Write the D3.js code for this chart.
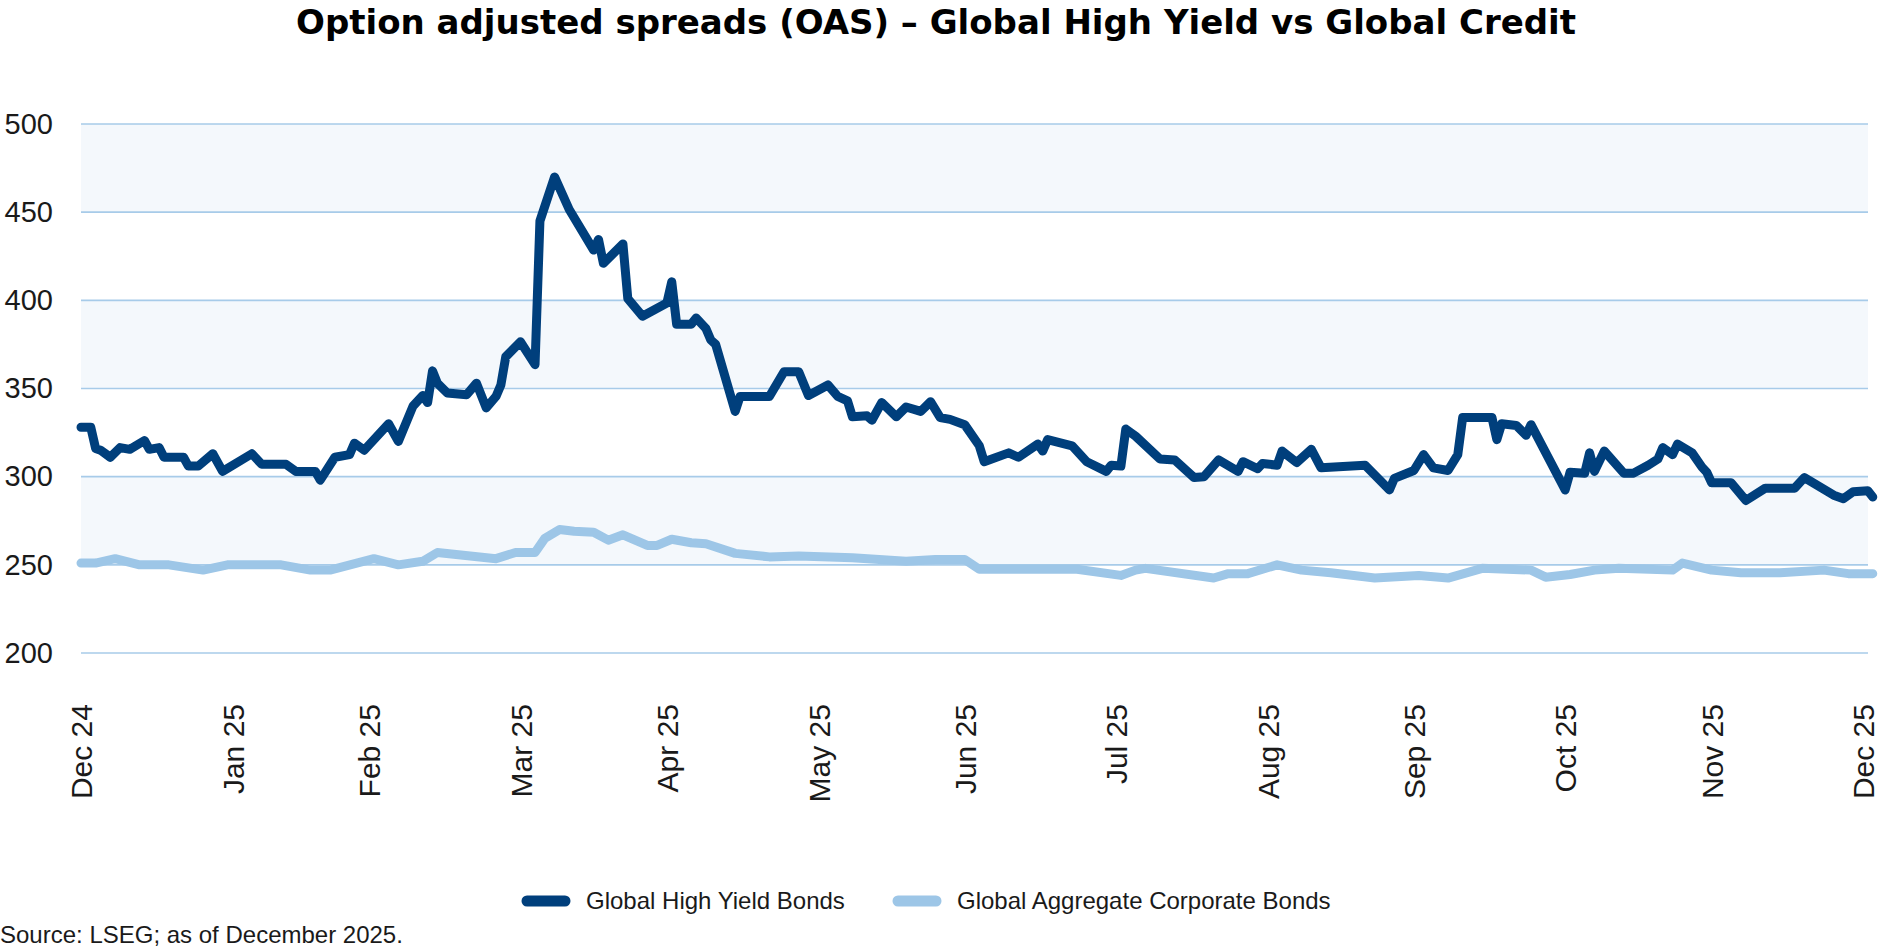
<!DOCTYPE html>
<html lang="en">
<head>
    <meta charset="UTF-8">
    <title>Option adjusted spreads (OAS)</title>
    <script src="https://cdn.jsdelivr.net/npm/d3@7"></script>
    <style>
        body { margin: 0; background: #fff; }
        svg { display: block; }
        text { font-family: "Liberation Sans", Arial, sans-serif; fill: #1a1a1a; }
        .title { font-family: "DejaVu Sans", sans-serif; font-weight: bold; font-size: 34px; fill: #000; }
    </style>
</head>
<body>
<div id="chart"></div>
<script>
    // Global High Yield Bonds, OAS in bp
    const hyDates = ["2024-12-31","2025-01-02","2025-01-03","2025-01-04","2025-01-06","2025-01-08","2025-01-10","2025-01-13","2025-01-14","2025-01-16",
        "2025-01-17","2025-01-21","2025-01-22","2025-01-24","2025-01-27","2025-01-29","2025-02-04","2025-02-06","2025-02-11","2025-02-13",
        "2025-02-17","2025-02-18","2025-02-21","2025-02-24","2025-02-25","2025-02-27","2025-03-04","2025-03-06","2025-03-09","2025-03-11",
        "2025-03-12","2025-03-13","2025-03-14","2025-03-16","2025-03-20","2025-03-22","2025-03-24","2025-03-26","2025-03-27","2025-03-28",
        "2025-03-31","2025-04-03","2025-04-04","2025-04-07","2025-04-10","2025-04-15","2025-04-16","2025-04-17","2025-04-21","2025-04-22",
        "2025-04-25","2025-04-30","2025-05-01","2025-05-02","2025-05-05","2025-05-06","2025-05-08","2025-05-09","2025-05-10","2025-05-14",
        "2025-05-15","2025-05-21","2025-05-24","2025-05-27","2025-05-29","2025-06-02","2025-06-04","2025-06-06","2025-06-07","2025-06-10",
        "2025-06-11","2025-06-13","2025-06-16","2025-06-18","2025-06-21","2025-06-23","2025-06-25","2025-06-27","2025-06-30","2025-07-03",
        "2025-07-04","2025-07-09","2025-07-11","2025-07-15","2025-07-16","2025-07-17","2025-07-22","2025-07-25","2025-07-29","2025-07-30",
        "2025-08-01","2025-08-02","2025-08-04","2025-08-09","2025-08-12","2025-08-16","2025-08-18","2025-08-21","2025-08-25","2025-08-26",
        "2025-08-29","2025-08-30","2025-09-02","2025-09-03","2025-09-06","2025-09-09","2025-09-11","2025-09-20","2025-09-25","2025-09-26",
        "2025-09-30","2025-10-02","2025-10-04","2025-10-07","2025-10-09","2025-10-10","2025-10-16","2025-10-17","2025-10-18","2025-10-21",
        "2025-10-23","2025-10-24","2025-10-31","2025-11-01","2025-11-04","2025-11-05","2025-11-06","2025-11-08","2025-11-12","2025-11-14",
        "2025-11-17","2025-11-19","2025-11-20","2025-11-22","2025-11-23","2025-11-26","2025-11-28","2025-11-29","2025-11-30","2025-12-04",
        "2025-12-07","2025-12-11","2025-12-17","2025-12-19","2025-12-25","2025-12-27","2025-12-29","2026-01-01","2026-01-02"];
    const hyValues = [328,328,316,315,311,316.5,315.5,320.5,315.5,316.5,
        311,311,306,306,313,303,313,307,307,303,
        303,298,311,312.5,319,315,330,320,340,346,
        342,360,353,347.5,346.5,353,339,345.5,352,368,
        376.5,363.5,445,470,451.5,428.5,434.5,421,432,401,
        391,398.5,410.5,386.5,386.5,390,384,377.5,375,337,
        345.5,345.5,359.5,359.5,346,352,345.5,343,334,334.5,
        332,342,334,339.5,337,342.5,333.5,332.5,329.5,317.5,
        308.5,313.5,311,318.5,314.5,321,317.5,308.5,303,306.5,
        306,327,323,310,309.5,299.5,300,309.5,303,308.5,
        304.5,307.5,306.5,314.5,308,315.5,305,306.5,292.5,299,
        303.5,312.5,305,303.5,312.5,333.5,333.5,321,330,329,
        323.5,329.5,292.5,302.5,302,313.5,303,314.5,302,302,
        306.5,310,316.5,312.5,318.5,313.5,305.5,302.5,296.5,296.5,
        286.5,293.5,293.5,299.5,289.5,287.5,291.5,292,288.5];

    // Global Aggregate Corporate Bonds, OAS in bp
    const aggDates = ["2024-12-31","2025-01-03","2025-01-07","2025-01-12","2025-01-18","2025-01-25","2025-01-30","2025-02-10","2025-02-16","2025-02-20",
        "2025-03-01","2025-03-06","2025-03-11","2025-03-14","2025-03-26","2025-03-30","2025-04-03","2025-04-05","2025-04-08","2025-04-11",
        "2025-04-15","2025-04-18","2025-04-21","2025-04-26","2025-04-28","2025-05-01","2025-05-05","2025-05-08","2025-05-14","2025-05-21",
        "2025-05-27","2025-06-07","2025-06-18","2025-06-24","2025-06-30","2025-07-03","2025-07-23","2025-08-01","2025-08-04","2025-08-06",
        "2025-08-20","2025-08-23","2025-08-27","2025-09-02","2025-09-07","2025-09-13","2025-09-22","2025-10-01","2025-10-07","2025-10-14",
        "2025-10-24","2025-10-27","2025-11-01","2025-11-06","2025-11-11","2025-11-22","2025-11-24","2025-11-30","2025-12-06","2025-12-14",
        "2025-12-23","2025-12-28","2026-01-02"];
    const aggValues = [251,251,253.5,250,250,247,250,250,247,247,
        253.5,250,252,257,253.5,257,257,265,270,269,
        268.5,264,267,261,261,264.5,262.5,262,256.5,254.5,
        255,254,252,253,253,247.5,247.5,244,247,248,
        242.5,245,245,250,247,245.5,242.5,244,242.5,248,
        247,243,244.5,247,248,247,251,247,245.5,245.5,
        247,245,245];

    const yTickValues = [200, 250, 300, 350, 400, 450, 500];
    const seriesNames = ["Global High Yield Bonds", "Global Aggregate Corporate Bonds"];
    const titleText = "Option adjusted spreads (OAS) \u2013 Global High Yield vs Global Credit";
    const sourceText = "Source: LSEG; as of December 2025.";

    const W = 1880, H = 948;
    const margin = {top: 124, right: 12, bottom: 295, left: 81};
    const colors = ["#003f7c", "#9dc6e7"];

    const parse = d3.timeParse("%Y-%m-%d");
    const hy = hyDates.map((d, i) => ({date: parse(d), value: hyValues[i]}));
    const agg = aggDates.map((d, i) => ({date: parse(d), value: aggValues[i]}));

    const svg = d3.select("#chart").append("svg")
        .attr("width", W)
        .attr("height", H);

    const plotRight = W - margin.right;

    // month-end labels; the last one sits a little inside the plot edge
    const x = d3.scaleTime()
        .domain([parse("2024-12-31"), parse("2025-12-31")])
        .range([margin.left, plotRight - 5]);

    const y = d3.scaleLinear()
        .domain([200, 500])
        .range([H - margin.bottom, margin.top]);

    // alternating bands (every other interval shaded)
    const bands = d3.pairs(yTickValues).filter((p, i) => i % 2 === 1);
    svg.append("g").selectAll("rect")
        .data(bands)
        .join("rect")
        .attr("x", margin.left)
        .attr("width", plotRight - margin.left)
        .attr("y", d => y(d[1]))
        .attr("height", d => y(d[0]) - y(d[1]))
        .attr("fill", "#f4f8fc");

    // gridlines
    svg.append("g").selectAll("line")
        .data(yTickValues)
        .join("line")
        .attr("x1", margin.left)
        .attr("x2", plotRight)
        .attr("y1", d => y(d))
        .attr("y2", d => y(d))
        .attr("stroke", "#a7cbe9")
        .attr("stroke-width", 1.6);

    // y axis labels
    const yAxis = svg.append("g")
        .attr("transform", `translate(${margin.left},0)`)
        .call(d3.axisLeft(y).tickValues(yTickValues).tickSize(0).tickPadding(28));
    yAxis.select(".domain").remove();
    yAxis.selectAll("text")
        .style("font-family", "'Liberation Sans', Arial, sans-serif")
        .style("font-size", "29px")
        .attr("fill", "#1a1a1a");

    // x axis: month-end ticks
    const monthEnds = d3.timeMonth.range(parse("2025-01-01"), parse("2026-01-02"))
        .map(d => d3.timeDay.offset(d, -1));
    const xAxis = svg.append("g")
        .attr("transform", `translate(0,704)`)
        .call(d3.axisBottom(x).tickValues(monthEnds).tickFormat(d3.timeFormat("%b %y")).tickSize(0));
    xAxis.select(".domain").remove();
    xAxis.selectAll("text")
        .attr("transform", "rotate(-90)")
        .attr("text-anchor", "end")
        .attr("x", 0)
        .attr("y", 0)
        .attr("dy", "0.36em")
        .style("font-family", "'Liberation Sans', Arial, sans-serif")
        .style("font-size", "30px")
        .attr("fill", "#1a1a1a");

    const line = d3.line()
        .x(d => x(d.date))
        .y(d => y(d.value));

    svg.append("path")
        .datum(agg)
        .attr("fill", "none")
        .attr("stroke", colors[1])
        .attr("stroke-width", 9)
        .attr("stroke-linejoin", "round")
        .attr("stroke-linecap", "round")
        .attr("d", line);

    svg.append("path")
        .datum(hy)
        .attr("fill", "none")
        .attr("stroke", colors[0])
        .attr("stroke-width", 9)
        .attr("stroke-linejoin", "round")
        .attr("stroke-linecap", "round")
        .attr("d", line);

    // title
    svg.append("text")
        .attr("class", "title")
        .attr("x", 936)
        .attr("y", 34)
        .attr("text-anchor", "middle")
        .text(titleText);

    // legend
    const legend = svg.append("g").attr("transform", "translate(522,901)");
    const legendX = [0, 371];
    seriesNames.forEach((name, i) => {
        const g = legend.append("g").attr("transform", `translate(${legendX[i]},0)`);
        g.append("line")
            .attr("x1", 5).attr("x2", 43)
            .attr("y1", 0).attr("y2", 0)
            .attr("stroke", colors[i])
            .attr("stroke-width", 11)
            .attr("stroke-linecap", "round");
        g.append("text")
            .attr("x", 64)
            .attr("y", 0)
            .attr("dy", "0.35em")
            .style("font-size", "24px")
            .text(name);
    });

    // source note
    svg.append("text")
        .attr("x", 0)
        .attr("y", 943)
        .style("font-size", "24px")
        .text(sourceText);
</script>
</body>
</html>
